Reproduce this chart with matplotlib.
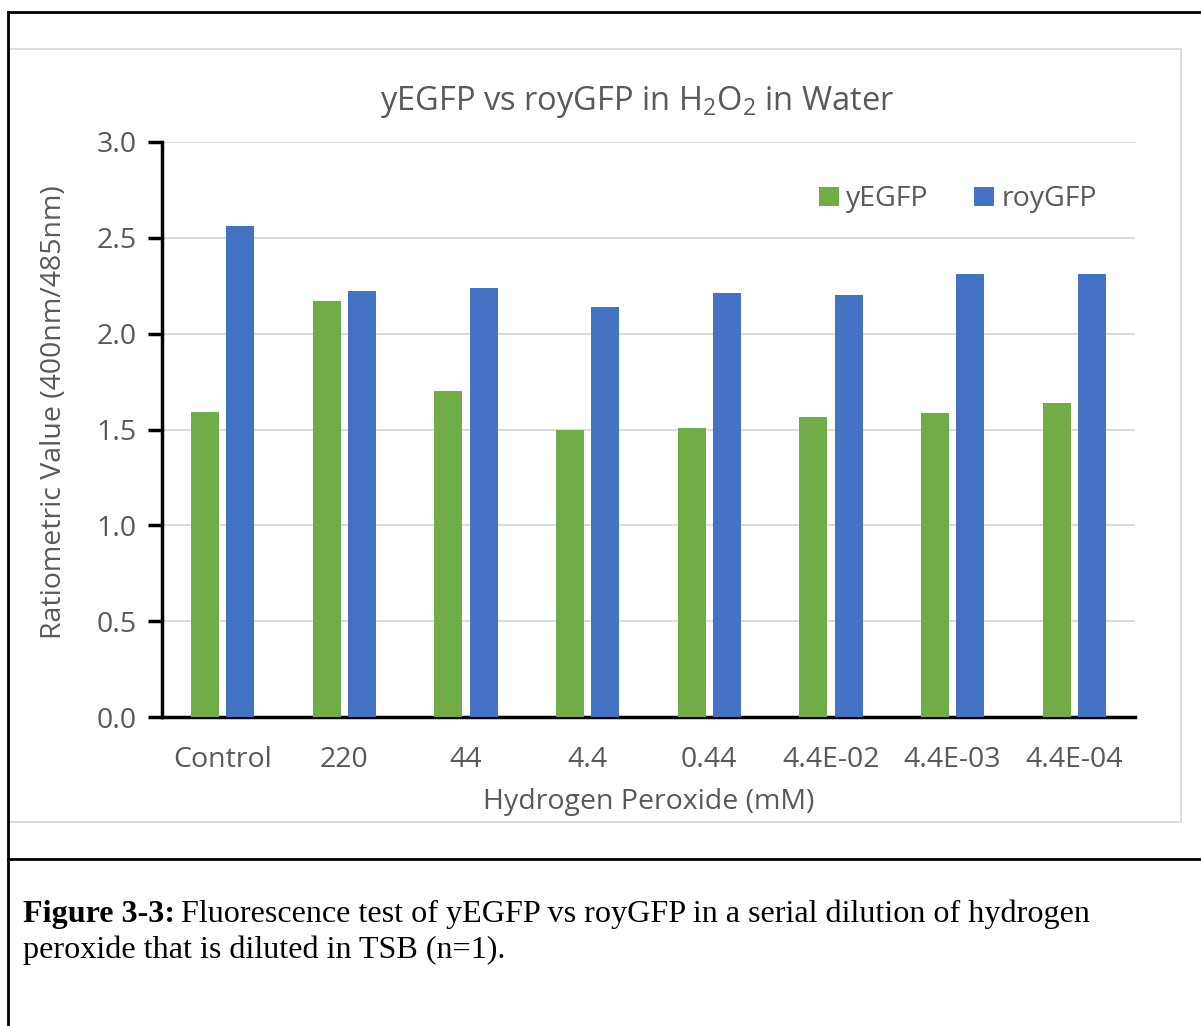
import numpy as np
import matplotlib
matplotlib.use('Agg')
import matplotlib.pyplot as plt
from matplotlib.lines import Line2D
from matplotlib.patches import Rectangle

# data
categories = ['Control', '220', '44', '4.4', '0.44', '4.4E-02', '4.4E-03', '4.4E-04']
yegfp = [1.59, 2.17, 1.70, 1.50, 1.51, 1.565, 1.585, 1.64]
roygfp = [2.56, 2.22, 2.24, 2.14, 2.21, 2.20, 2.31, 2.31]
yticks = [0.0, 0.5, 1.0, 1.5, 2.0, 2.5, 3.0]

W, H = 1201, 1026
fig = plt.figure(figsize=(W / 100, H / 100), dpi=100)
plt.rcParams['font.family'] = ['Open Sans', 'DejaVu Sans']

grey = '#595959'
green = '#70AD47'
blue = '#4472C4'
fs = 20.5

# axes placed by pixel box of the plot area
x0, x1, ytop, ybot = 162, 1135, 142, 717
ax = fig.add_axes([x0 / W, 1 - ybot / H, (x1 - x0) / W, (ybot - ytop) / H])

x = np.arange(len(categories))
bw = 0.23
ax.bar(x - 0.145, yegfp, bw, color=green, label='yEGFP', zorder=3)
ax.bar(x + 0.145, roygfp, bw, color=blue, label='royGFP', zorder=3)

ax.set_xlim(-0.5, len(categories) - 0.5)
ax.set_ylim(0, 3.0)
ax.set_yticks(yticks)
ax.set_yticklabels(['%.1f' % t for t in yticks], fontsize=fs, color=grey)
ax.set_xticks(x)
ax.set_xticklabels(categories, fontsize=fs, color=grey)
ax.tick_params(axis='x', length=0, pad=21)
ax.tick_params(axis='y', length=10, width=2.5, color='black', pad=8)
ax.yaxis.grid(True, color='#D9D9D9', lw=1.3, zorder=0)
ax.set_axisbelow(True)
for s in ['top', 'right']:
    ax.spines[s].set_visible(False)
ax.spines['left'].set_linewidth(2.5)
ax.spines['bottom'].set_linewidth(2.5)

ax.set_ylabel('Ratiometric Value (400nm/485nm)', fontsize=fs, color=grey, va='center')
ax.set_xlabel('Hydrogen Peroxide (mM)', fontsize=fs, color=grey, va='center')
ax.yaxis.set_label_coords((54 - x0) / (x1 - x0), (ybot - 412) / (ybot - ytop))
ax.xaxis.set_label_coords(0.5, -(802 - ybot) / (ybot - ytop))

ax.legend(loc='upper right', bbox_to_anchor=(0.987, 0.969), ncol=2, frameon=False,
          fontsize=fs, labelcolor=grey, handlelength=0.7, handleheight=0.7,
          handletextpad=0.25, columnspacing=1.6)

fig.text(637 / W, 1 - 102 / H, r'yEGFP vs royGFP in $\mathregular{H_2O_2}$ in Water',
         ha='center', va='center', fontsize=23.5, color=grey)

# page borders
fig.add_artist(Line2D([8 / W, 8 / W], [0, 1 - 12 / H], color='black', lw=2))
fig.add_artist(Line2D([8 / W, 1], [1 - 12 / H, 1 - 12 / H], color='black', lw=2))
fig.add_artist(Line2D([8 / W, 1], [1 - 859 / H, 1 - 859 / H], color='black', lw=2))
fig.add_artist(Rectangle((9 / W, 1 - 822 / H), (1181 - 9) / W, (822 - 49) / H,
                         fill=False, ec='#D9D9D9', lw=1.3, transform=fig.transFigure))

# caption
cap_font = ['Liberation Serif', 'DejaVu Serif']
cap_fs = 23.1
b = fig.text(23 / W, 1 - 922 / H, 'Figure 3-3:', family=cap_font, weight='bold',
             fontsize=cap_fs, ha='left', va='baseline')
fig.canvas.draw()
ext = b.get_window_extent(fig.canvas.get_renderer())
fig.text(ext.x1 / W + 6 / W, 1 - 922 / H,
         'Fluorescence test of yEGFP vs royGFP in a serial dilution of hydrogen',
         family=cap_font, fontsize=cap_fs, ha='left', va='baseline')
fig.text(23 / W, 1 - 958 / H, 'peroxide that is diluted in TSB (n=1).',
         family=cap_font, fontsize=cap_fs, ha='left', va='baseline')

fig.savefig('out.png', dpi=100)
